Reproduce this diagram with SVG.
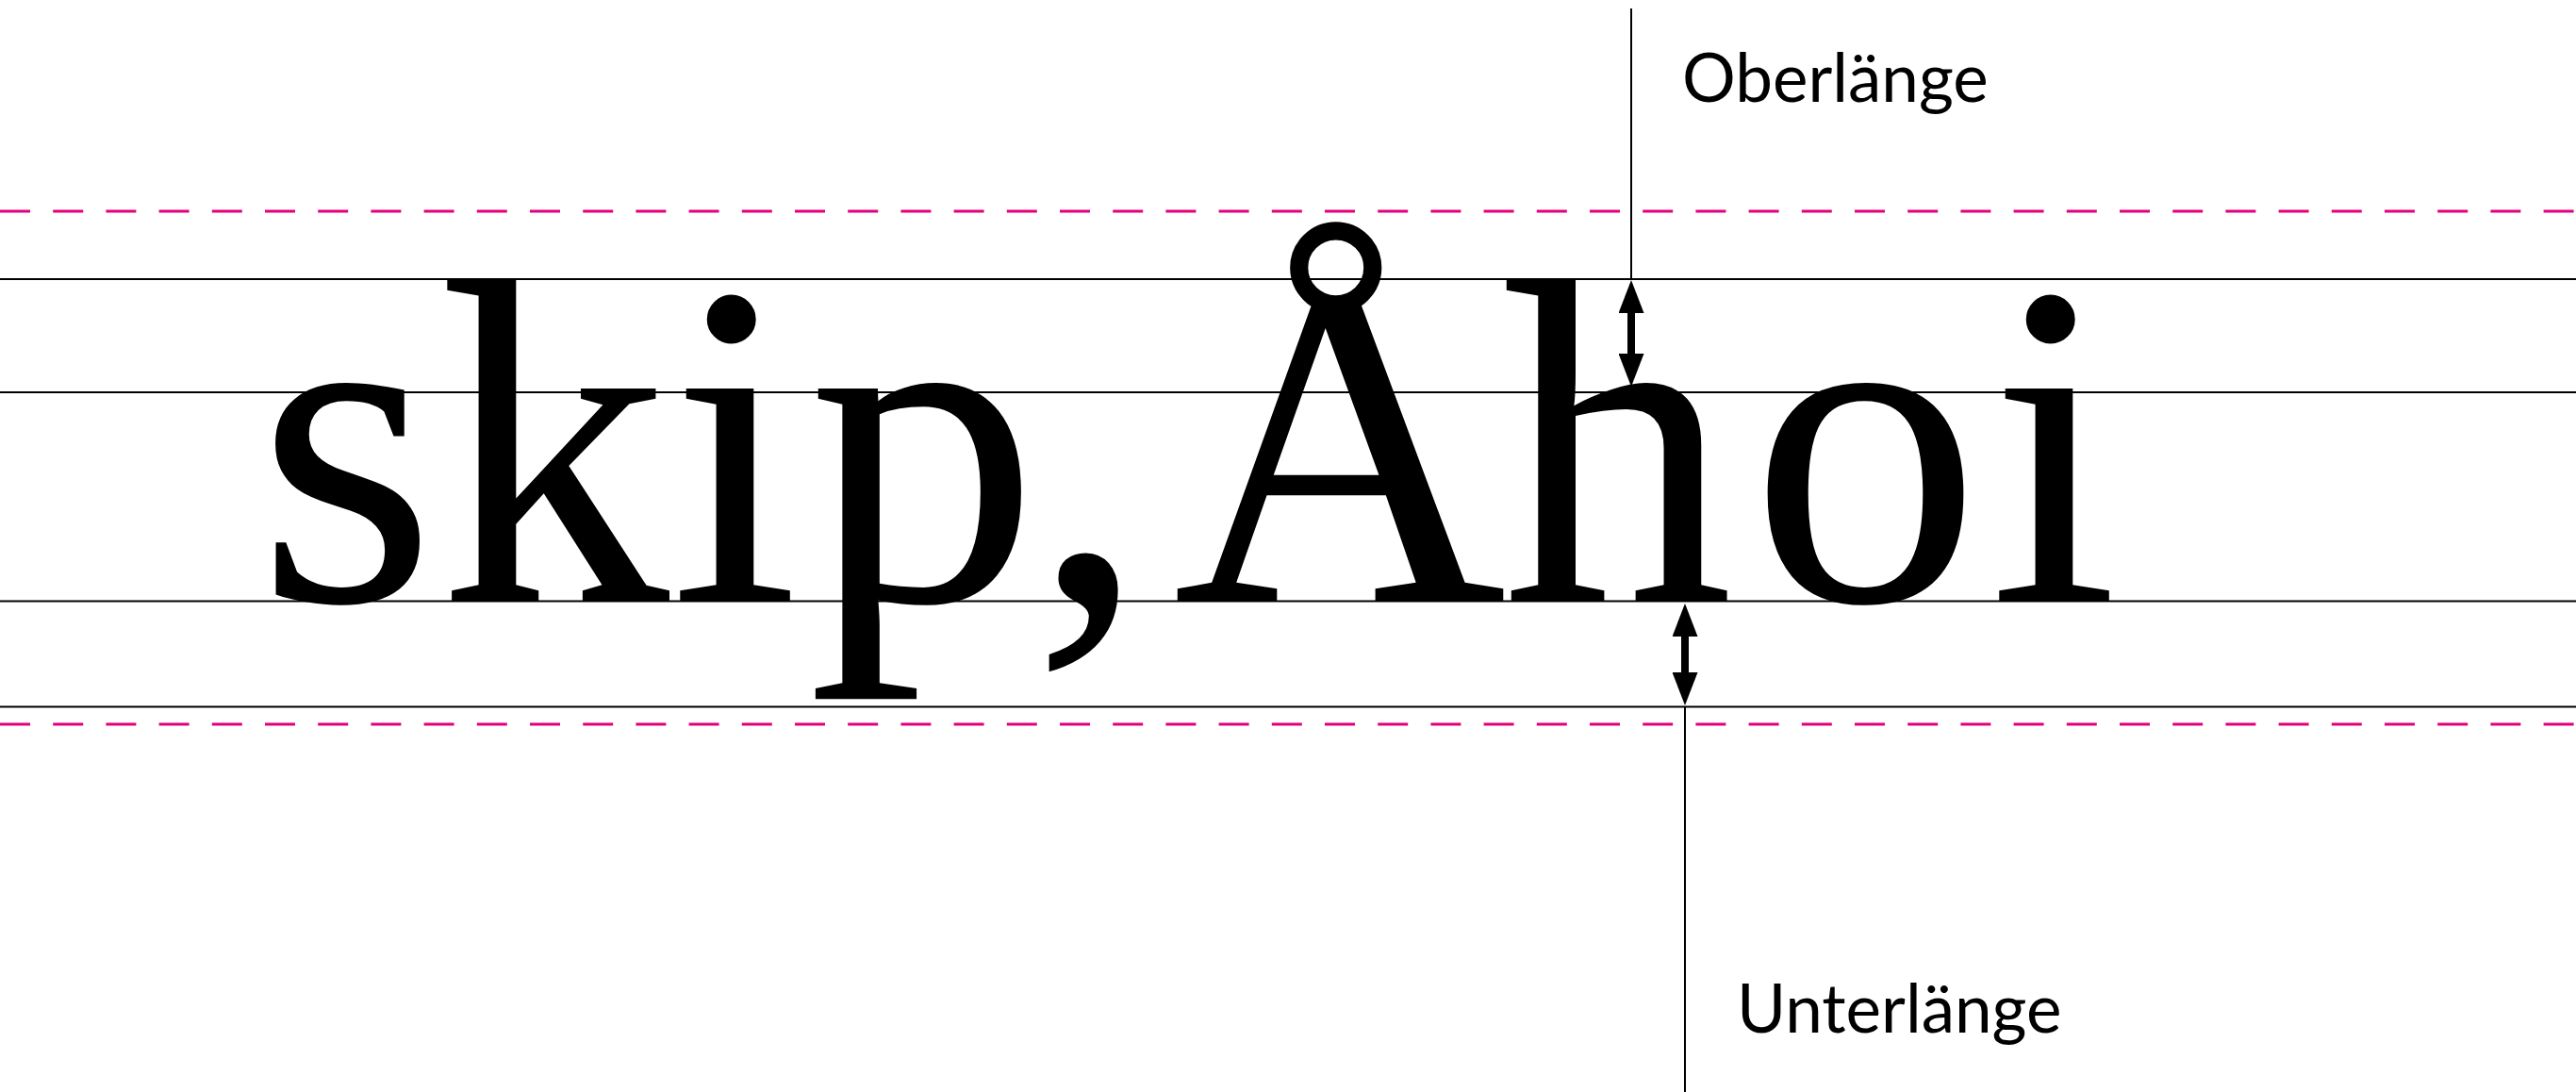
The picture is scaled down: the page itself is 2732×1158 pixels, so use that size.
<svg xmlns="http://www.w3.org/2000/svg" width="2732" height="1158" viewBox="0 0 2732 1158">
<style>
.word{font-family:"Liberation Serif","Times New Roman",serif;font-size:490px;fill:#000}
.label{font-family:Lato,"Open Sans","Liberation Sans",sans-serif;font-size:71px;fill:#000}
.guide{stroke:#000;stroke-width:2;fill:none}
.dash{stroke:#e4007c;stroke-width:3;stroke-dasharray:32 24.2;fill:none}
.lead{stroke:#000;stroke-width:2;fill:none}
.shaft{stroke:#000;stroke-width:8;fill:none;marker-start:url(#head);marker-end:url(#head)}
</style>
<defs>
<marker id="head" markerUnits="userSpaceOnUse" markerWidth="35" markerHeight="27" viewBox="0 0 35 27" refX="23" refY="13.5" orient="auto-start-reverse">
<path d="M0,0 L35,13.5 L0,27 Z" fill="#000"/>
</marker>
</defs>
<g id="word">
<text class="word" x="272 465 711 857 1094 1170 1244 1593 1856 2110" y="637">skip, Åhoi</text>
</g>
<g id="guides">
<line class="dash" x1="0" y1="224" x2="2732" y2="224"/>
<line class="guide" x1="0" y1="296" x2="2732" y2="296"/>
<line class="guide" x1="0" y1="416" x2="2732" y2="416"/>
<line class="guide" x1="0" y1="637.5" x2="2732" y2="637.5"/>
<line class="guide" x1="0" y1="749.5" x2="2732" y2="749.5"/>
<line class="dash" x1="0" y1="768" x2="2732" y2="768"/>
</g>
<g id="label-oberlaenge">
<text class="label" x="1784" y="108">Oberlänge</text>
</g>
<g id="label-unterlaenge">
<text class="label" x="1842" y="1095">Unterlänge</text>
</g>
<g id="connectors">
<line class="lead" x1="1730" y1="9" x2="1730" y2="297"/>
<line class="shaft" x1="1730" y1="309" x2="1730" y2="398"/>
<line class="lead" x1="1787" y1="749" x2="1787" y2="1158"/>
<line class="shaft" x1="1787" y1="652" x2="1787" y2="736"/>
</g>
</svg>
